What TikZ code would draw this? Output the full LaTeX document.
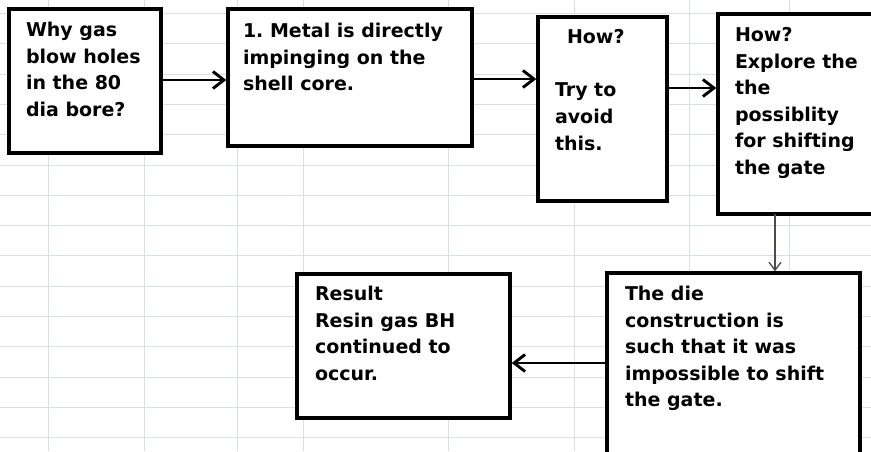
\documentclass[tikz,border=0pt]{standalone}
\usepackage{fontspec}
\setmainfont{DejaVu Sans}
\usetikzlibrary{arrows.meta}
\definecolor{gridc}{HTML}{D9DEE9}
\tikzset{
  box/.style={draw=black, fill=white, line width=3.4pt, inner sep=0pt, outer sep=0pt},
  txt/.style={anchor=north west, inner sep=0pt, outer sep=0pt, align=left,
              font=\fontsize{19}{26.5}\selectfont\bfseries\frenchspacing},
  flow/.style={line width=2.9pt, -{Straight Barb[length=11pt,width=17pt,line width=2.9pt]}, shorten >=1.7pt},
  thinflow/.style={line width=1.3pt, draw=black!70, -{Straight Barb[length=8pt,width=12pt,line width=1.3pt]}, shorten >=1.7pt},
  gridl/.style={draw=gridc, line width=0.9pt}
}
\begin{document}
\begin{tikzpicture}[x=1pt, y=-1pt]
\useasboundingbox (0,0) rectangle (871,451);
\clip (0,0) rectangle (871,451);
\fill[white] (0,0) rectangle (871,451);
% spreadsheet grid
\foreach \gx in {48,144,237,303,448,574,689,789}
  \draw[gridl] (\gx,0) -- (\gx,451);
\foreach \k in {0,...,14}
  \draw[gridl] (0,13.5+30.3*\k) -- (871,13.5+30.3*\k);
% boxes
\node[box, minimum width=152pt, minimum height=144pt] (b1) at (85,81) {};
\node[box, minimum width=244pt, minimum height=137pt] (b2) at (350,77.5) {};
\node[box, minimum width=129pt, minimum height=184pt] (b3) at (602.5,109) {};
\node[box, minimum width=182pt, minimum height=200pt] (b4) at (809,114) {};
\node[box, minimum width=253pt, minimum height=197pt] (b5) at (733.5,371.5) {};
\node[box, minimum width=213pt, minimum height=144pt] (b6) at (403.5,346) {};
% texts
\node[txt] (t1) at (26,22.5) {Why gas\\blow holes\\in the 80\\dia bore?};
\node[txt] (t2) at (243,23.5) {1. Metal is directly\\impinging on the\\shell core.};
\node[txt] (t3a) at (567,29.5) {How?};
\node[txt, font=\fontsize{19}{27}\selectfont\bfseries] (t3b) at (555,82.5) {Try to\\avoid\\this.};
\node[txt] (t4) at (735,27.5) {How?\\Explore the\\the\\possiblity\\for shifting\\the gate};
\node[txt] (t5) at (625,286.5) {The die\\construction is\\such that it was\\impossible to shift\\the gate.};
\node[txt] (t6) at (315,286.5) {Result\\Resin gas BH\\continued to\\occur.};
% connectors
\draw[flow] (b1.east |- 0,80) -- (b2.west |- 0,80);
\draw[flow] (b2.east |- 0,79) -- (b3.west |- 0,79);
\draw[flow] (b3.east |- 0,88) -- (b4.west |- 0,88);
\draw[thinflow] (b4.south -| 775,0) -- (b5.north -| 775,0);
\draw[flow] (b5.west |- 0,363) -- (b6.east |- 0,363);
\end{tikzpicture}
\end{document}
